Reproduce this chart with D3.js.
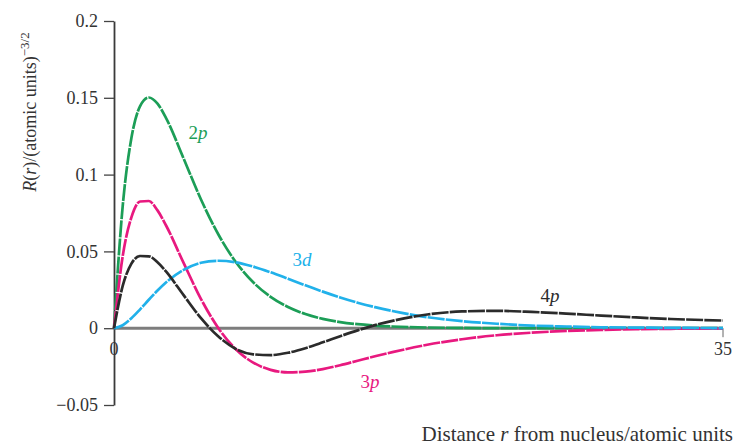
<!DOCTYPE html>
<html>
<head>
<meta charset="utf-8">
<script src="https://cdn.jsdelivr.net/npm/d3@7"></script>
<style>
  body { margin: 0; background: #fff; }
  text { font-family: "Liberation Serif", "DejaVu Serif", serif; }
</style>
</head>
<body>
<svg id="chart" width="733" height="446"></svg>
<script>
// radial distance r (atomic units)
var rVals = [0, 0.5, 1, 1.5, 2, 2.5, 3, 4, 5, 6, 7, 8, 9, 10, 11, 12, 13, 14, 15, 16, 18, 20, 22, 24, 26, 28, 30, 32, 35];

// R(r)
var r2p = [0, 0.0795, 0.1238, 0.1446, 0.1502, 0.1462, 0.1366, 0.1105, 0.0838, 0.0610, 0.0431, 0.0299, 0.0204, 0.0138, 0.0092, 0.0061, 0.0040, 0.0026, 0.0017, 0.0011, 0.00045, 0.00019, 0.00007, 0.00003, 0.00001, 0, 0, 0, 0];
var r3p = [0, 0.0469, 0.0722, 0.0825, 0.0828, 0.0767, 0.0667, 0.0425, 0.0190, 0, -0.0137, -0.0224, -0.0271, -0.0288, -0.0283, -0.0266, -0.0241, -0.0212, -0.0183, -0.0156, -0.0108, -0.0072, -0.0046, -0.0029, -0.0018, -0.0011, -0.0007, -0.0004, -0.0002];
var r3d = [0, 0.0019, 0.0065, 0.0123, 0.0185, 0.0245, 0.0299, 0.0380, 0.0426, 0.0439, 0.0429, 0.0401, 0.0364, 0.0322, 0.0279, 0.0238, 0.0200, 0.0166, 0.0137, 0.0112, 0.0072, 0.0046, 0.0029, 0.0017, 0.0011, 0.0006, 0.0004, 0.0002, 0.0001];
var r4p = [0, 0.0275, 0.0420, 0.0470, 0.0468, 0.0430, 0.0368, 0.0215, 0.0065, -0.0054, -0.0135, -0.0170, -0.0175, -0.0160, -0.0130, -0.0092, -0.0052, -0.0014, 0.0020, 0.0048, 0.0089, 0.0109, 0.0113, 0.0106, 0.0095, 0.0082, 0.0070, 0.0060, 0.0050];

var yTicks = [0.2, 0.15, 0.1, 0.05, 0, -0.05];
var yTickLabels = ["0.2", "0.15", "0.1", "0.05", "0", "\u22120.05"];
var xTicks = [0, 35];

var series = [
  {name: "2p", vals: r2p, color: "#1c9e57", lx: 198, ly: 133},
  {name: "3p", vals: r3p, color: "#e8197f", lx: 370, ly: 382},
  {name: "3d", vals: r3d, color: "#21b1ea", lx: 302, ly: 260},
  {name: "4p", vals: r4p, color: "#2b2b2b", lx: 550, ly: 296}
];

var svg = d3.select("#chart");

var x = d3.scaleLinear().domain([0, 35]).range([114, 723]);
var y = d3.scaleLinear().domain([-0.05, 0.2]).range([405, 21]);

// zero line (grey, thick)
svg.append("line")
  .attr("x1", x(0)).attr("x2", x(35))
  .attr("y1", y(0)).attr("y2", y(0))
  .attr("stroke", "#7d7d7d")
  .attr("stroke-width", 3);

// y axis
var yAxis = d3.axisLeft(y)
  .tickValues(yTicks)
  .tickFormat(function(d, i) { return yTickLabels[i]; })
  .tickSize(10)
  .tickSizeOuter(0);

var gy = svg.append("g")
  .attr("transform", "translate(" + x(0) + ",0)")
  .call(yAxis);
gy.select(".domain").attr("stroke", "#3a3a3a").attr("stroke-width", 1.8);
gy.selectAll(".tick line").attr("stroke", "#444").attr("stroke-width", 1.3);
gy.selectAll(".tick text")
  .attr("x", -16)
  .attr("fill", "#333")
  .style("font-size", "18px")
  .style("font-family", "'Liberation Serif', serif");

// x tick labels and the small tick at 35
svg.selectAll(".xlab")
  .data(xTicks)
  .enter()
  .append("text")
  .attr("class", "xlab")
  .attr("x", function(d) { return x(d); })
  .attr("y", y(0) + 27)
  .attr("text-anchor", "middle")
  .attr("fill", "#333")
  .style("font-size", "18px")
  .text(function(d) { return d; });

svg.append("line")
  .attr("x1", x(35)).attr("x2", x(35))
  .attr("y1", y(0)).attr("y2", y(0) + 9)
  .attr("stroke", "#666").attr("stroke-width", 1);

// curves
var line = d3.line()
  .x(function(d, i) { return x(rVals[i]); })
  .y(function(d) { return y(d); })
  .curve(d3.curveMonotoneX);

svg.selectAll(".curve")
  .data(series)
  .enter()
  .append("path")
  .attr("class", "curve")
  .attr("d", function(d) { return line(d.vals); })
  .attr("fill", "none")
  .attr("stroke", function(d) { return d.color; })
  .attr("stroke-width", 2.7)
  .attr("stroke-dasharray", "17,1.2");

// curve labels
var labs = svg.selectAll(".clab")
  .data(series)
  .enter()
  .append("text")
  .attr("class", "clab")
  .attr("x", function(d) { return d.lx; })
  .attr("y", function(d) { return d.ly + 6; })
  .attr("text-anchor", "middle")
  .attr("fill", function(d) { return d.color; })
  .style("font-size", "19px");
labs.append("tspan").text(function(d) { return d.name[0]; });
labs.append("tspan").style("font-style", "italic").text(function(d) { return d.name[1]; });

// y axis title
var yt = svg.append("text")
  .attr("transform", "translate(36,112) rotate(-90)")
  .attr("text-anchor", "middle")
  .attr("fill", "#333")
  .style("font-size", "18px");
yt.append("tspan").style("font-style", "italic").text("R");
yt.append("tspan").text("(");
yt.append("tspan").style("font-style", "italic").text("r");
yt.append("tspan").text(")/(atomic units)");
yt.append("tspan").attr("dy", -7).style("font-size", "13px").text("\u22123/2");

// x axis title
var xt = svg.append("text")
  .attr("x", 733)
  .attr("y", 441)
  .attr("text-anchor", "end")
  .attr("fill", "#333")
  .style("font-size", "21px");
xt.append("tspan").text("Distance ");
xt.append("tspan").style("font-style", "italic").text("r");
xt.append("tspan").text(" from nucleus/atomic units");
</script>
</body>
</html>
